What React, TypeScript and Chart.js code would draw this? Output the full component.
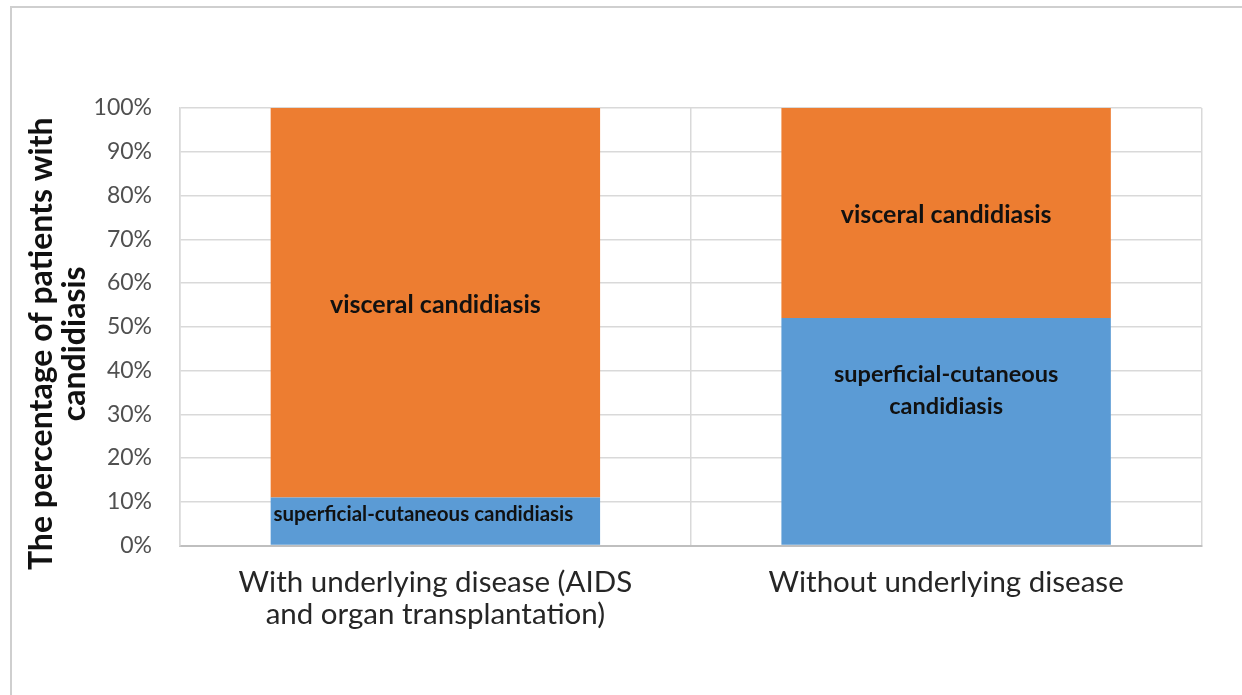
import React, { useEffect, useRef } from "react";
import { Chart, registerables } from "chart.js";

Chart.register(...registerables);

const categories: (string | string[])[] = [
  ["With underlying disease (AIDS", "and organ transplantation)"],
  "Without underlying disease",
];
const superficialValues = [11, 52];
const visceralValues = [89, 48];
const superficialLabels: string[][] = [
  ["superficial-cutaneous candidiasis"],
  ["superficial-cutaneous", "candidiasis"],
];
const visceralLabels: string[][] = [["visceral candidiasis"], ["visceral candidiasis"]];
const yTitle = ["The percentage of patients with", "candidiasis"];

const W = 1242;
const H = 695;
const PLOT_TOP = 108;
const PLOT_BOTTOM = 545.5;
const PLOT_LEFT = 180;
const PLOT_RIGHT = 1201.5;

const segLabelPlugin = {
  id: "segLabels",
  afterDatasetsDraw(chart: any) {
    const cfg = chart.options.plugins.segLabels;
    const ctx = chart.ctx;
    chart.data.datasets.forEach((ds: any, di: number) => {
      const meta = chart.getDatasetMeta(di);
      meta.data.forEach((el: any, i: number) => {
        const lines: string[] = ds.segTexts[i];
        const st = cfg.styles[di][i];
        const cx = el.x + (st.dx || 0);
        const cy = (el.y + el.base) / 2 + (st.dy || 0);
        ctx.save();
        ctx.font = `bold ${st.size}px ${cfg.family}`;
        ctx.fillStyle = "#111";
        ctx.textAlign = "center";
        ctx.textBaseline = "middle";
        const lh = st.lh || st.size * 1.4;
        const start = cy - ((lines.length - 1) * lh) / 2;
        lines.forEach((t, k) => ctx.fillText(t, cx, start + k * lh));
        ctx.restore();
      });
    });
  },
};

const yTitlePlugin = {
  id: "yTitleText",
  afterDraw(chart: any) {
    const cfg = chart.options.plugins.yTitleText;
    const ctx = chart.ctx;
    const area = chart.chartArea;
    ctx.save();
    ctx.font = `bold ${cfg.size}px ${cfg.family}`;
    ctx.fillStyle = "#111";
    ctx.textAlign = "center";
    ctx.textBaseline = "middle";
    const cy = (area.top + area.bottom) / 2 + cfg.dy;
    cfg.text.forEach((t: string, k: number) => {
      ctx.save();
      ctx.translate(cfg.x + k * cfg.lh, cy);
      ctx.rotate(-Math.PI / 2);
      ctx.fillText(t, 0, 0);
      ctx.restore();
    });
    ctx.restore();
  },
};

export default function App() {
  const ref = useRef<HTMLCanvasElement | null>(null);
  useEffect(() => {
    const canvas = ref.current!;
    const chart = new Chart(canvas, {
      type: "bar",
      data: {
        labels: categories,
        datasets: [
          {
            label: "superficial-cutaneous candidiasis",
            data: superficialValues,
            backgroundColor: "#5B9BD5",
            barPercentage: 0.645,
            categoryPercentage: 1,
            segTexts: superficialLabels,
          } as any,
          {
            label: "visceral candidiasis",
            data: visceralValues,
            backgroundColor: "#ED7D31",
            barPercentage: 0.645,
            categoryPercentage: 1,
            segTexts: visceralLabels,
          } as any,
        ],
      },
      options: {
        responsive: false,
        animation: false,
        layout: { padding: { top: PLOT_TOP, right: W - PLOT_RIGHT, left: 0, bottom: 0 } },
        plugins: {
          legend: { display: false },
          tooltip: { enabled: false },
          segLabels: {
            family: "Lato, sans-serif",
            styles: [
              [
                { size: 20.5, dx: -12, dy: -7 },
                { size: 23.5, dx: 0, dy: -41, lh: 32 },
              ],
              [
                { size: 25, dx: 0, dy: 2 },
                { size: 25, dx: 0, dy: 2 },
              ],
            ],
          },
          yTitleText: {
            text: yTitle,
            family: "Lato, sans-serif",
            size: 32,
            x: 42,
            lh: 33,
            dy: 17,
          },
        } as any,
        scales: {
          x: {
            stacked: true,
            offset: true,
            grid: { offset: true, color: "#d9d9d9", lineWidth: 1.5, drawTicks: false },
            border: { display: true, color: "#bfbfbf", width: 2 },
            ticks: {
              font: { family: "Lato, sans-serif", size: 29.5, lineHeight: 1.085 },
              color: "#262626",
              padding: 20.5,
              maxRotation: 0,
              autoSkip: false,
            },
            afterFit(scale: any) {
              scale.height = H - PLOT_BOTTOM;
            },
          },
          y: {
            stacked: true,
            min: 0,
            max: 100,
            grid: { color: "#d9d9d9", lineWidth: 1.5, drawTicks: false },
            border: { display: true, color: "#d9d9d9", width: 1.5 },
            ticks: {
              stepSize: 10,
              callback: (v: any) => v + "%",
              font: { family: "Lato, sans-serif", size: 23 },
              color: "#505050",
              padding: 28,
            },
            afterFit(scale: any) {
              scale.width = PLOT_LEFT;
            },
          },
        },
      },
      plugins: [segLabelPlugin, yTitlePlugin],
    });
    return () => chart.destroy();
  }, []);
  return (
    <div style={{ position: "fixed", left: 0, top: 0, width: W, height: H, background: "#fff" }}>
      <canvas ref={ref} width={W} height={H} style={{ position: "absolute", left: 0, top: 0 }} />
      <div
        style={{
          position: "absolute",
          left: 10,
          top: 6,
          right: 0,
          bottom: 0,
          borderTop: "2px solid #cfcfcf",
          borderLeft: "2px solid #cfcfcf",
          pointerEvents: "none",
        }}
      />
    </div>
  );
}
